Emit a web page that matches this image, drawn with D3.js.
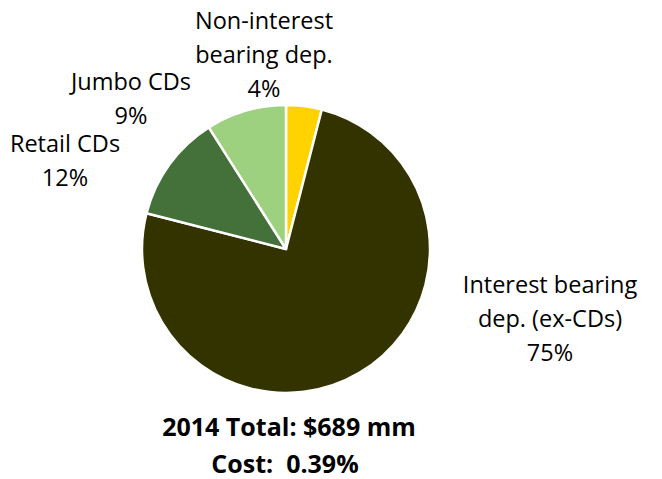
<!DOCTYPE html>
<html>
<head>
<meta charset="utf-8">
<script src="https://cdn.jsdelivr.net/npm/d3@7"></script>
<style>
  body { margin: 0; background: #fff; }
  text { font-family: "Open Sans", sans-serif; fill: #000; white-space: pre; }
</style>
</head>
<body>
<svg id="chart" width="662" height="479"></svg>
<script>
// data
var categories = ["Non-interest bearing dep.", "Interest bearing dep. (ex-CDs)", "Retail CDs", "Jumbo CDs"]
var shares = [4, 75, 12, 9]
var labelLines = [["Non-interest", "bearing dep."], ["Interest bearing", "dep. (ex-CDs)"], ["Retail CDs"], ["Jumbo CDs"]]
var footer = ["2014 Total: $689 mm", "Cost:  0.39%"]

var colors = ["#FFD200", "#333300", "#44703A", "#9DD07F"]

var width = 662,
    height = 479,
    radius = 144,
    cx = 286,
    cy = 249;

// where each label block sits (center x, first baseline y)
var labelPos = [[264, 29], [550, 293], [65, 152], [131, 90]]
var lineH = 34

var svg = d3.select("#chart")

var pie = d3.pie()
    .sort(null)
    .value(function (d) { return d; });

var arc = d3.arc()
    .outerRadius(radius)
    .innerRadius(0);

var g = svg.append("g")
    .attr("transform", "translate(" + cx + "," + cy + ")");

g.selectAll("path")
    .data(pie(shares))
    .enter().append("path")
    .attr("d", arc)
    .style("fill", function (d, i) { return colors[i]; })
    .style("stroke", "#fff")
    .style("stroke-width", 2.5)
    .style("stroke-linejoin", "round");

var labels = svg.selectAll(".lbl")
    .data(pie(shares))
    .enter().append("text")
    .attr("class", "lbl")
    .attr("text-anchor", "middle")
    .attr("font-size", "23.5px");

labels.each(function (d, i) {
    var t = d3.select(this)
    var lines = labelLines[i].concat([d.data + "%"])
    lines.forEach(function (s, j) {
        t.append("tspan")
            .attr("x", labelPos[i][0])
            .attr("y", labelPos[i][1] + j * lineH)
            .text(s)
    })
})

svg.selectAll(".foot")
    .data(footer)
    .enter().append("text")
    .attr("class", "foot")
    .attr("text-anchor", "middle")
    .attr("font-size", "25px")
    .attr("font-weight", "bold")
    .attr("x", function (d, i) { return i == 0 ? 289 : 285; })
    .attr("y", function (d, i) { return 436 + i * 37; })
    .text(function (d) { return d; });
</script>
</body>
</html>
